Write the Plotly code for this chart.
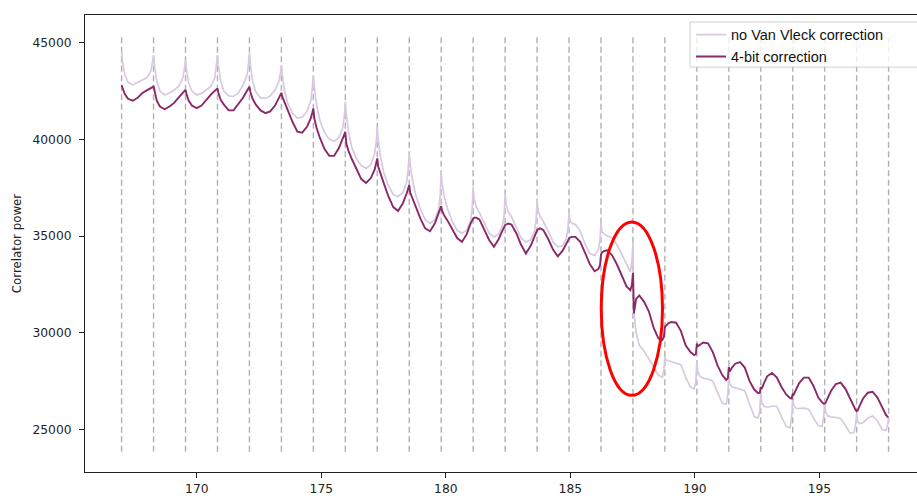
import plotly.graph_objects as go

# Coarse-channel boundaries (MHz) of the correlator band
COARSE_EDGES_MHZ = [
    166.980, 168.263, 169.547, 170.830, 172.113, 173.397, 174.680, 175.963,
    177.246, 178.530, 179.813, 181.096, 182.380, 183.663, 184.946, 186.230,
    187.513, 188.796, 190.079, 191.363, 192.646, 193.929, 195.213, 196.496,
    197.779,
]
# Where the spectrum is sampled inside each coarse channel (fraction of its width)
SAMPLE_FRACTIONS = [0.0, 0.03, 0.1, 0.2, 0.35, 0.5, 0.65, 0.8, 0.92, 0.97]

# Correlator power without Van Vleck correction, one row per coarse channel
POWER_NO_VAN_VLECK = [
    44540, 44000, 43350, 42950, 42820, 42950, 43050, 43200, 43550, 43950,
    44363, 43800, 43000, 42500, 42300, 42400, 42550, 42780, 43200, 43700,
    44140, 43600, 42900, 42500, 42300, 42380, 42550, 42750, 43200, 43800,
    44363, 43800, 43000, 42500, 42250, 42220, 42400, 42800, 43300, 43900,
    44450, 43850, 43000, 42450, 42150, 42120, 42250, 42550, 43000, 43450,
    43846, 43300, 42500, 41850, 41350, 41100, 41150, 41450, 42000, 42700,
    43328, 42700, 41800, 41000, 40350, 40000, 39900, 40100, 40600, 41200,
    41950, 41300, 40400, 39600, 39000, 38650, 38500, 38700, 39300, 39900,
    40652, 40000, 39100, 38300, 37600, 37150, 37050, 37250, 37800, 38500,
    39275, 38700, 37900, 37150, 36400, 35850, 35650, 35850, 36400, 37100,
    38323, 37700, 37000, 36400, 35750, 35300, 35150, 35300, 35800, 36400,
    37547, 36950, 36500, 36200, 35650, 35150, 34950, 35100, 35550, 36100,
    37205, 36650, 36250, 36000, 35450, 34900, 34700, 34800, 35250, 35800,
    36858, 36350, 36000, 35750, 35250, 34700, 34450, 34500, 34900, 35450,
    36253, 35800, 35650, 35600, 35250, 34600, 34100, 34000, 34300, 34800,
    35700, 35250, 35100, 35000, 34900, 34550, 34050, 33500, 33150, 33700,
    34650, 31100, 30000, 29350, 29050, 28650, 28200, 27800, 27700, 28100,
    28750, 28600, 28550, 28500, 28450, 28350, 27700, 27200, 27100, 27500,
    28500, 28000, 27750, 27650, 27600, 27500, 26900, 26350, 26300, 26800,
    27800, 27350, 27200, 27150, 27100, 27000, 26300, 25650, 25600, 26000,
    26900, 26400, 26200, 26150, 26200, 26200, 25650, 25150, 25100, 25700,
    26700, 26250, 26100, 26080, 26100, 26050, 25600, 25200, 25150, 25700,
    26500, 25900, 25700, 25650, 25620, 25560, 25200, 24800, 24850, 25300,
    25800, 25400, 25300, 25350, 25600, 25700, 25450, 25000, 24950, 25250,
    25600,
]

# Correlator power after 4-bit Van Vleck correction
POWER_4BIT = [
    42800, 42650, 42350, 42100, 42000, 42150, 42400, 42550, 42640, 42700,
    42760, 42500, 42000, 41700, 41560, 41700, 41900, 42200, 42400, 42500,
    42560, 42350, 42000, 41750, 41620, 41750, 42050, 42330, 42520, 42600,
    42640, 42400, 42050, 41800, 41500, 41500, 41800, 42150, 42500, 42650,
    42720, 42450, 42100, 41800, 41500, 41360, 41450, 41750, 42150, 42350,
    42410, 42200, 41900, 41500, 40900, 40400, 40350, 40650, 41100, 41400,
    41600, 41100, 40600, 40100, 39500, 39150, 39150, 39550, 40000, 40250,
    40394, 39800, 39400, 39000, 38450, 37950, 37750, 38000, 38450, 38800,
    39016, 38600, 38200, 37750, 37050, 36500, 36300, 36700, 37200, 37450,
    37635, 37250, 36950, 36550, 35900, 35400, 35250, 35650, 36150, 36400,
    36550, 36300, 36050, 35800, 35350, 34900, 34700, 35100, 35650, 35870,
    35910, 35950, 35950, 35850, 35350, 34800, 34450, 34850, 35300, 35500,
    35570, 35600, 35650, 35600, 35150, 34550, 34100, 34500, 35000, 35220,
    35300, 35350, 35400, 35300, 34850, 34300, 33950, 34250, 34650, 34800,
    34870, 34920, 34960, 34960, 34700, 34150, 33550, 33180, 33300, 33500,
    34050, 34150, 34230, 34270, 34000, 33530, 32950, 32400, 32200, 32500,
    33100, 31000, 31750, 31930, 31600, 31100, 30250, 29700, 29620, 29800,
    30300, 30350, 30480, 30560, 30520, 30100, 29350, 29000, 28850, 28900,
    29440, 29300, 29400, 29500, 29450, 29000, 28300, 27800, 27560, 27650,
    28230, 28000, 28200, 28400, 28480, 28200, 27500, 27050, 26880, 26900,
    27200, 27100, 27400, 27750, 27920, 27700, 27200, 26800, 26620, 26600,
    26850, 26800, 27050, 27400, 27680, 27680, 27250, 26650, 26400, 26330,
    26340, 26380, 26650, 27000, 27350, 27420, 27100, 26550, 26200, 26000,
    25950, 25980, 26250, 26600, 26900, 26950, 26650, 26100, 25750, 25650,
    25640,
]

SERIES_NAMES = ["no Van Vleck correction", "4-bit correction"]
SERIES_COLORS = ["#d7cadf", "#8b2868"]

X_TICKS = [170, 175, 180, 185, 190, 195]
Y_TICKS = [25000, 30000, 35000, 40000, 45000]
X_RANGE = [165.51, 198.92]
Y_RANGE = [22800, 46434]

# Vertical extent of the coarse-channel markers
EDGE_MARKER_SPAN = [23850, 45350]
# Region flagged around the 187.5 MHz boundary
FLAG_FREQ = [186.24, 188.70]
FLAG_POWER = [26765, 35735]

# Frequency grid of the samples
freq = []
for lo, hi in zip(COARSE_EDGES_MHZ[:-1], COARSE_EDGES_MHZ[1:]):
    for frac in SAMPLE_FRACTIONS:
        freq.append(lo + frac * (hi - lo))
freq.append(COARSE_EDGES_MHZ[-1])

fig = go.Figure()

# Dashed markers at every coarse-channel boundary
edge_x, edge_y = [], []
for e in COARSE_EDGES_MHZ:
    edge_x += [e, e, None]
    edge_y += [EDGE_MARKER_SPAN[0], EDGE_MARKER_SPAN[1], None]
fig.add_trace(go.Scatter(
    x=edge_x, y=edge_y, mode="lines", showlegend=False, hoverinfo="skip",
    line=dict(color="rgba(150,150,150,0.75)", width=1.4, dash="6px,3.5px"),
))

for name, values, color, width in zip(
        SERIES_NAMES, [POWER_NO_VAN_VLECK, POWER_4BIT], SERIES_COLORS, [1.7, 1.9]):
    fig.add_trace(go.Scatter(
        x=freq, y=values, mode="lines", name=name,
        line=dict(color=color, width=width),
    ))

# Legend frame (runs off the right edge of the figure)
fig.add_shape(
    type="rect", xref="paper", yref="paper",
    x0=0.7272, x1=1.03, y0=0.886, y1=0.9847,
    fillcolor="rgba(255,255,255,0.8)", line=dict(color="#d0d0d0", width=1),
    layer="above",
)

# Flagged region
fig.add_shape(
    type="circle", xref="x", yref="y",
    x0=FLAG_FREQ[0], x1=FLAG_FREQ[1], y0=FLAG_POWER[0], y1=FLAG_POWER[1],
    line=dict(color="#ff0000", width=3), layer="above",
)

tick_font = dict(family="DejaVu Sans", size=12.3, color="#222222")

fig.update_layout(
    width=917, height=496,
    margin=dict(l=85, r=0, t=15, b=24),
    paper_bgcolor="white", plot_bgcolor="white",
    showlegend=True,
    legend=dict(
        x=0.7284, y=0.992, xanchor="left", yanchor="top",
        bgcolor="rgba(0,0,0,0)", borderwidth=0,
        font=dict(family="Liberation Sans, Arial", size=14.5, color="#111111"),
        itemwidth=30, tracegroupgap=0,
    ),
    xaxis=dict(
        range=X_RANGE, tickvals=X_TICKS, ticktext=[str(t) for t in X_TICKS],
        ticks="outside", ticklen=5, tickwidth=1, tickcolor="#222",
        showline=True, linecolor="#222", linewidth=1, mirror=True,
        showgrid=False, zeroline=False, tickfont=tick_font,
    ),
    yaxis=dict(
        range=Y_RANGE, tickvals=Y_TICKS, ticktext=[str(t) for t in Y_TICKS],
        ticks="outside", ticklen=5, tickwidth=1, tickcolor="#222",
        showline=True, linecolor="#222", linewidth=1, mirror=False,
        showgrid=False, zeroline=False, tickfont=tick_font,
        ticklabelstandoff=5,
        title=dict(text="Correlator power",
                   font=dict(family="DejaVu Sans", size=11.8, color="#222222"),
                   standoff=8),
    ),
)

fig.write_html("out.html")
